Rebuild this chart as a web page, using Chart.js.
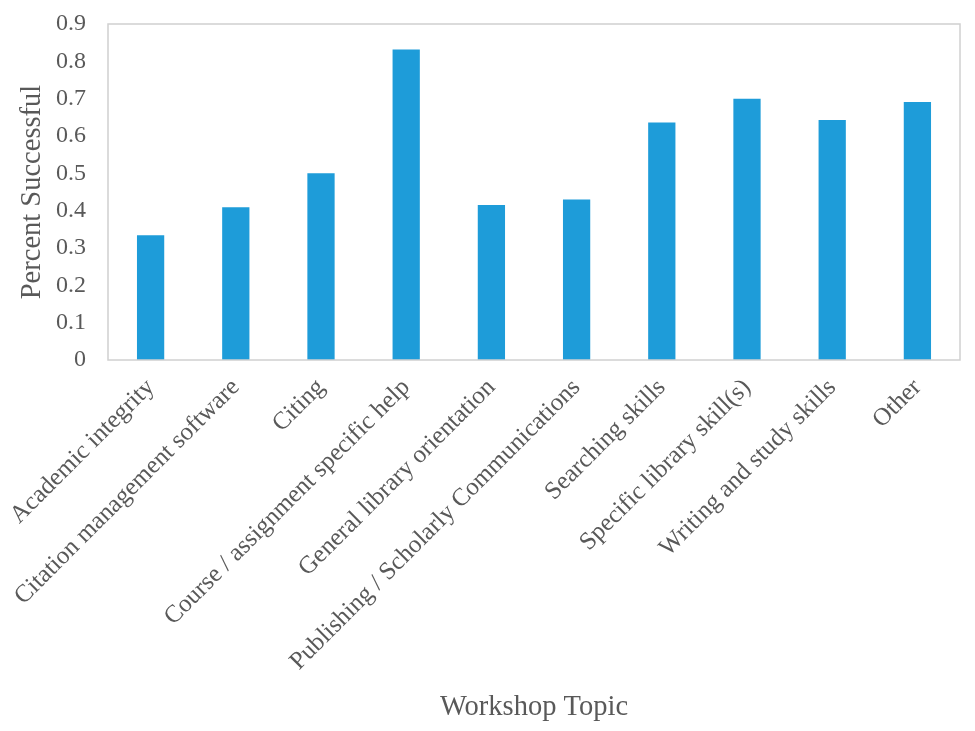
<!DOCTYPE html>
<html>
<head>
<meta charset="utf-8">
<script src="https://cdn.jsdelivr.net/npm/chart.js@4/dist/chart.umd.min.js"></script>
<style>
  html, body { margin: 0; padding: 0; background: #ffffff; }
  #wrap { width: 975px; height: 731px; position: relative; }
</style>
</head>
<body>
<div id="wrap"><canvas id="c"></canvas></div>
<script>
const categories = [
  "Academic integrity",
  "Citation management software",
  "Citing",
  "Course / assignment specific help",
  "General library orientation",
  "Publishing / Scholarly Communications",
  "Searching skills",
  "Specific library skill(s)",
  "Writing and study skills",
  "Other"
];
const percentSuccessful = [0.334, 0.409, 0.5, 0.832, 0.415, 0.43, 0.636, 0.7, 0.643, 0.691];
const yTicks = [0, 0.1, 0.2, 0.3, 0.4, 0.5, 0.6, 0.7, 0.8, 0.9];
const xTitle = "Workshop Topic";
const yTitle = "Percent Successful";

const textColor = "#595959";
const fontFamily = "'Liberation Serif', 'Times New Roman', serif";

const framePlugin = {
  id: "frame",
  afterDraw(chart) {
    const a = chart.chartArea;
    const ctx = chart.ctx;
    ctx.save();
    ctx.strokeStyle = "#d0d0d0";
    ctx.lineWidth = 1.5;
    ctx.strokeRect(a.left, a.top, a.right - a.left, a.bottom - a.top);
    ctx.restore();
  }
};

new Chart(document.getElementById("c"), {
  type: "bar",
  data: {
    labels: categories,
    datasets: [{
      data: percentSuccessful,
      backgroundColor: "#1e9cd9",
      borderWidth: 0,
      barPercentage: 0.32,
      categoryPercentage: 1.0
    }]
  },
  options: {
    responsive: true,
    maintainAspectRatio: false,
    animation: false,
    devicePixelRatio: 1,
    layout: { padding: { top: 24, right: 15, left: 0, bottom: 0 } },
    plugins: {
      legend: { display: false },
      tooltip: { enabled: false }
    },
    scales: {
      x: {
        grid: { display: false, drawTicks: false },
        border: { display: false },
        ticks: {
          color: textColor,
          font: { family: fontFamily, size: 25 },
          minRotation: 45,
          maxRotation: 45,
          padding: 13,
          autoSkip: false
        },
        title: {
          display: true,
          text: xTitle,
          color: textColor,
          font: { family: fontFamily, size: 28.5 },
          padding: { top: 0, bottom: 6 }
        },
        afterFit(scale) {
          scale.height = 371;
          scale.paddingLeft = 0;
          scale.paddingRight = 0;
        }
      },
      y: {
        min: 0,
        max: 0.9,
        grid: { display: false, drawTicks: false },
        border: { display: false },
        afterBuildTicks(scale) {
          scale.ticks = yTicks.map(v => ({ value: v }));
        },
        ticks: {
          color: textColor,
          font: { family: fontFamily, size: 24 },
          padding: 22,
          callback: v => (v === 0 ? "0" : Number(v).toFixed(1))
        },
        title: {
          display: true,
          text: yTitle,
          color: textColor,
          font: { family: fontFamily, size: 28.5 },
          padding: { top: 15, bottom: 0 }
        },
        afterFit(scale) {
          scale.width = 108;
          scale.paddingTop = 0;
          scale.paddingBottom = 0;
        }
      }
    }
  },
  plugins: [framePlugin]
});
</script>
</body>
</html>
